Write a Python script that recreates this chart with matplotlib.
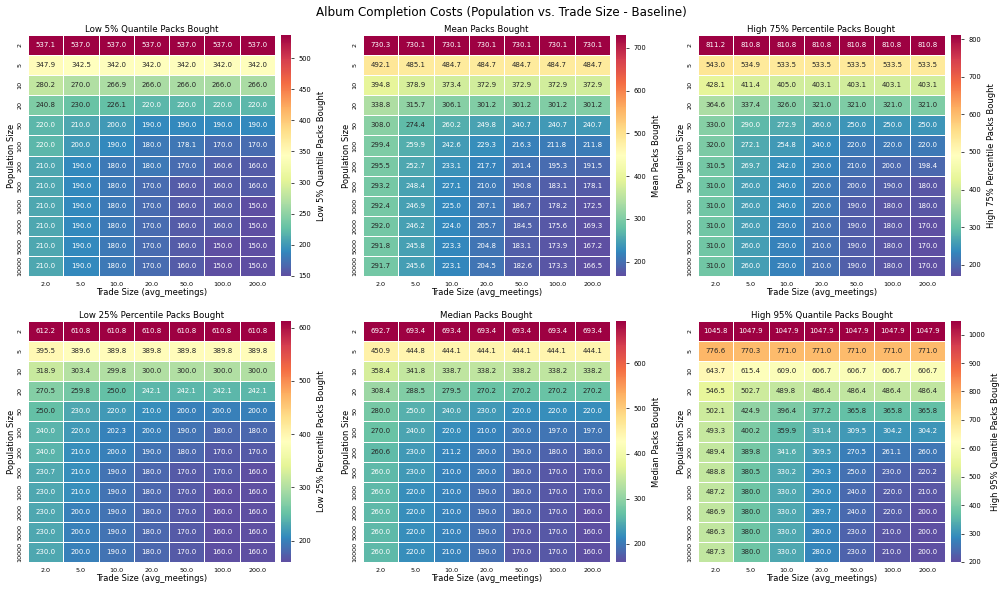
import matplotlib
matplotlib.use("Agg")
import matplotlib.pyplot as plt
import seaborn as sns
import numpy as np
import pandas as pd

population_sizes = [2, 5, 10, 20, 50, 100, 200, 500, 1000, 2000, 5000, 10000]
trade_sizes = ["2.0", "5.0", "10.0", "20.0", "50.0", "100.0", "200.0"]

low5 = [
    [537.1, 537.0, 537.0, 537.0, 537.0, 537.0, 537.0],
    [347.9, 342.5, 342.0, 342.0, 342.0, 342.0, 342.0],
    [280.2, 270.0, 266.9, 266.0, 266.0, 266.0, 266.0],
    [240.8, 230.0, 226.1, 220.0, 220.0, 220.0, 220.0],
    [220.0, 210.0, 200.0, 190.0, 190.0, 190.0, 190.0],
    [220.0, 200.0, 190.0, 180.0, 178.1, 170.0, 170.0],
    [210.0, 190.0, 180.0, 180.0, 170.0, 160.6, 160.0],
    [210.0, 190.0, 180.0, 170.0, 160.0, 160.0, 160.0],
    [210.0, 190.0, 180.0, 170.0, 160.0, 160.0, 150.0],
    [210.0, 190.0, 180.0, 170.0, 160.0, 160.0, 150.0],
    [210.0, 190.0, 180.0, 170.0, 160.0, 150.0, 150.0],
    [210.0, 190.0, 180.0, 170.0, 160.0, 150.0, 150.0],
]
mean = [
    [730.3, 730.1, 730.1, 730.1, 730.1, 730.1, 730.1],
    [492.1, 485.1, 484.7, 484.7, 484.7, 484.7, 484.7],
    [394.8, 378.9, 373.4, 372.9, 372.9, 372.9, 372.9],
    [338.8, 315.7, 306.1, 301.2, 301.2, 301.2, 301.2],
    [308.0, 274.4, 260.2, 249.8, 240.7, 240.7, 240.7],
    [299.4, 259.9, 242.6, 229.3, 216.3, 211.8, 211.8],
    [295.5, 252.7, 233.1, 217.7, 201.4, 195.3, 191.5],
    [293.2, 248.4, 227.1, 210.0, 190.8, 183.1, 178.1],
    [292.4, 246.9, 225.0, 207.1, 186.7, 178.2, 172.5],
    [292.0, 246.2, 224.0, 205.7, 184.5, 175.6, 169.3],
    [291.8, 245.8, 223.3, 204.8, 183.1, 173.9, 167.2],
    [291.7, 245.6, 223.1, 204.5, 182.6, 173.3, 166.5],
]
high75 = [
    [811.2, 810.8, 810.8, 810.8, 810.8, 810.8, 810.8],
    [543.0, 534.9, 533.5, 533.5, 533.5, 533.5, 533.5],
    [428.1, 411.4, 405.0, 403.1, 403.1, 403.1, 403.1],
    [364.6, 337.4, 326.0, 321.0, 321.0, 321.0, 321.0],
    [330.0, 290.0, 272.9, 260.0, 250.0, 250.0, 250.0],
    [320.0, 272.1, 254.8, 240.0, 220.0, 220.0, 220.0],
    [310.5, 269.7, 242.0, 230.0, 210.0, 200.0, 198.4],
    [310.0, 260.0, 240.0, 220.0, 200.0, 190.0, 180.0],
    [310.0, 260.0, 240.0, 220.0, 190.0, 180.0, 180.0],
    [310.0, 260.0, 230.0, 210.0, 190.0, 180.0, 170.0],
    [310.0, 260.0, 230.0, 210.0, 190.0, 180.0, 170.0],
    [310.0, 260.0, 230.0, 210.0, 190.0, 180.0, 170.0],
]
low25 = [
    [612.2, 610.8, 610.8, 610.8, 610.8, 610.8, 610.8],
    [395.5, 389.6, 389.8, 389.8, 389.8, 389.8, 389.8],
    [318.9, 303.4, 299.8, 300.0, 300.0, 300.0, 300.0],
    [270.5, 259.8, 250.0, 242.1, 242.1, 242.1, 242.1],
    [250.0, 230.0, 220.0, 210.0, 200.0, 200.0, 200.0],
    [240.0, 220.0, 202.3, 200.0, 190.0, 180.0, 180.0],
    [240.0, 210.0, 200.0, 190.0, 180.0, 170.0, 170.0],
    [230.7, 210.0, 190.0, 180.0, 170.0, 170.0, 160.0],
    [230.0, 210.0, 190.0, 180.0, 170.0, 160.0, 160.0],
    [230.0, 200.0, 190.0, 180.0, 170.0, 160.0, 160.0],
    [230.0, 200.0, 190.0, 180.0, 170.0, 160.0, 160.0],
    [230.0, 200.0, 190.0, 180.0, 170.0, 160.0, 160.0],
]
median = [
    [692.7, 693.4, 693.4, 693.4, 693.4, 693.4, 693.4],
    [450.9, 444.8, 444.1, 444.1, 444.1, 444.1, 444.1],
    [358.4, 341.8, 338.7, 338.2, 338.2, 338.2, 338.2],
    [308.4, 288.5, 279.5, 270.2, 270.2, 270.2, 270.2],
    [280.0, 250.0, 240.0, 230.0, 220.0, 220.0, 220.0],
    [270.0, 240.0, 220.0, 210.0, 200.0, 197.0, 197.0],
    [260.6, 230.0, 211.2, 200.0, 190.0, 180.0, 180.0],
    [260.0, 230.0, 210.0, 200.0, 180.0, 170.0, 170.0],
    [260.0, 220.0, 210.0, 190.0, 180.0, 170.0, 170.0],
    [260.0, 220.0, 210.0, 190.0, 180.0, 170.0, 160.0],
    [260.0, 220.0, 210.0, 190.0, 170.0, 170.0, 160.0],
    [260.0, 220.0, 210.0, 190.0, 170.0, 170.0, 160.0],
]
high95 = [
    [1045.8, 1047.9, 1047.9, 1047.9, 1047.9, 1047.9, 1047.9],
    [776.6, 770.3, 771.0, 771.0, 771.0, 771.0, 771.0],
    [643.7, 615.4, 609.0, 606.7, 606.7, 606.7, 606.7],
    [546.5, 502.7, 489.8, 486.4, 486.4, 486.4, 486.4],
    [502.1, 424.9, 396.4, 377.2, 365.8, 365.8, 365.8],
    [493.3, 400.2, 359.9, 331.4, 309.5, 304.2, 304.2],
    [489.4, 389.8, 341.6, 309.5, 270.5, 261.1, 260.0],
    [488.8, 380.5, 330.2, 290.3, 250.0, 230.0, 220.2],
    [487.2, 380.0, 330.0, 290.0, 240.0, 220.0, 210.0],
    [486.9, 380.0, 330.0, 289.7, 240.0, 220.0, 200.0],
    [486.3, 380.0, 330.0, 280.0, 230.0, 210.0, 200.0],
    [487.3, 380.0, 330.0, 280.0, 230.0, 210.0, 200.0],
]

panels = [
    ("Low 5% Quantile Packs Bought", low5),
    ("Mean Packs Bought", mean),
    ("High 75% Percentile Packs Bought", high75),
    ("Low 25% Percentile Packs Bought", low25),
    ("Median Packs Bought", median),
    ("High 95% Quantile Packs Bought", high95),
]

W, H = 1003, 589
fig = plt.figure(figsize=(W / 100, H / 100), dpi=100)
plt.rcParams['font.family'] = ['DejaVu Sans']

lefts = [28, 363, 698]
tops = [35, 321]
hw, hh = 247, 241
cb_off, cb_w = 6, 10

for i, (title, data) in enumerate(panels):
    r, c = divmod(i, 3)
    x0 = lefts[c]
    y0 = tops[r]
    ax = fig.add_axes([x0 / W, 1 - (y0 + hh) / H, hw / W, hh / H])
    cax = fig.add_axes([(x0 + hw + cb_off) / W, 1 - (y0 + hh) / H, cb_w / W, hh / H])
    df = pd.DataFrame(data, index=[str(p) for p in population_sizes], columns=trade_sizes)
    sns.heatmap(df, ax=ax, cbar_ax=cax, cmap="Spectral_r", annot=True, fmt=".1f",
                annot_kws={"size": 5.0}, linewidths=0.5, linecolor="white",
                cbar_kws={"label": title})
    ax.set_title(title, fontsize=6.2, pad=2)
    ax.set_xlabel("Trade Size (avg_meetings)", fontsize=6.0, labelpad=1)
    ax.set_ylabel("Population Size", fontsize=6.0, labelpad=1)
    ax.tick_params(axis="both", length=0, labelsize=4.6, pad=4)
    ax.set_yticklabels(ax.get_yticklabels(), rotation=90, va="center")
    ax.set_xticklabels(ax.get_xticklabels(), rotation=0)
    cax.tick_params(labelsize=4.8, length=2, width=0.5)
    cax.yaxis.label.set_size(6.0)
    for s in cax.spines.values():
        s.set_visible(False)

fig.suptitle("Album Completion Costs (Population vs. Trade Size - Baseline)", fontsize=8.6, y=0.99)
fig.savefig("out.png", dpi=100)
